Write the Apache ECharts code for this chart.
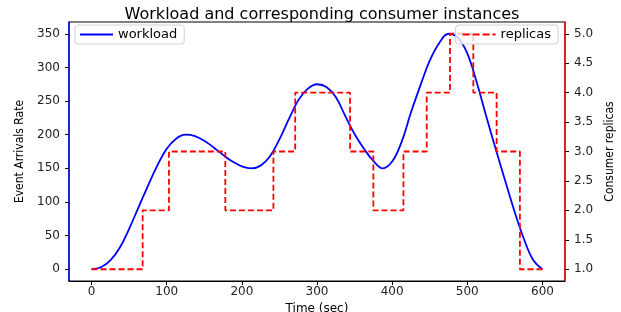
<!DOCTYPE html>
<html>
<head>
<meta charset="utf-8">
<title>Workload</title>
<script src="https://cdn.jsdelivr.net/npm/echarts/dist/echarts.min.js"></script>
<style>
  html,body{margin:0;padding:0;background:#fff;}
  #main{width:621px;height:312px;}
</style>
</head>
<body>
<div id="main"></div>
<script>
//workload curve (sec / events), read every 12.5 sec
var timeList = [0,12.5,25,37.5,50,62.5,75,87.5,100,112.5,125,137.5,150,162.5,175,187.5,200,212.5,225,237.5,250,262.5,275,287.5,300,
                312.5,325,337.5,350,362.5,375,387.5,400,412.5,425,437.5,450,462.5,475,487.5,500,512.5,525,537.5,550,562.5,575,587.5,600];
var workloadList = [0,3,13,32,60,92,124,154,179,194,200,198,191,181,170,160,153,150,154,168,193,223,251,268,275,
                    271,256,228,201,179,161,150,160,189,233,273,310,336,350,344,321,278,228,180,133,87,46,14,0];
//replicas step (time where the count changes)
var replicaTimes = [0,68,103,178,242,271,344,375,415,446,477,508,539,570,600];
var replicaList = [1,2,3,2,3,4,3,2,3,4,5,4,3,1,1];
//tick labels
var xTicks = [0,100,200,300,400,500,600];
var leftTicks = [0,50,100,150,200,250,300,350];
var rightTicks = [1.0,1.5,2.0,2.5,3.0,3.5,4.0,4.5,5.0];

var FONT = 'DejaVu Sans';
var NARROW = "'DejaVu Sans Condensed', 'Liberation Sans Narrow', 'Liberation Sans', sans-serif";

function toPairs(xs, ys){
	var arr = [];
	for(var i=0;i<xs.length;i++){
		arr.push([xs[i], ys[i]]);
	}
	return arr;
}

function draw_chart(){
	var myChart = echarts.init(document.getElementById('main'), null, {renderer:'canvas'});
	var option = {
		animation: false,
		backgroundColor: '#fff',
		title: {
			text: 'Workload and corresponding consumer instances',
			left: 317,
			top: 2,
			textAlign: 'center',
			textStyle: {fontFamily: FONT, fontSize: 16, fontWeight: 'normal', color: '#000'}
		},
		legend: [
			{
				data: ['workload'],
				left: 75,
				top: 25,
				orient: 'horizontal',
				icon: 'path://M0,0 L33,0 L33,2 L0,2 Z',
				itemWidth: 33,
				itemHeight: 2,
				padding: [3, 7, 3, 5],
				backgroundColor: 'rgba(255,255,255,0.8)',
				borderColor: '#d0d0d0',
				borderWidth: 1,
				borderRadius: 3,
				textStyle: {fontFamily: FONT, fontSize: 13, color: '#000'}
			},
			{
				data: ['replicas'],
				right: 63,
				top: 25,
				orient: 'horizontal',
				//dashed sample
				icon: 'path://M0,0 h7 v2 h-7 Z M10,0 h7 v2 h-7 Z M20,0 h7 v2 h-7 Z M30,0 h3 v2 h-3 Z',
				itemWidth: 33,
				itemHeight: 2,
				padding: [3, 7, 3, 7],
				backgroundColor: 'rgba(255,255,255,0.8)',
				borderColor: '#d0d0d0',
				borderWidth: 1,
				borderRadius: 3,
				textStyle: {fontFamily: FONT, fontSize: 13, color: '#000'}
			}
		],
		grid: {
			left: 69, right: 56, top: 22, bottom: 31,
			containLabel: false,
			outerBoundsMode: 'none',
			show: true,
			borderColor: '#000',
			borderWidth: 1,
			backgroundColor: 'transparent'
		},
		xAxis: {
			type: 'value',
			min: -30,
			max: 630,
			name: 'Time (sec)',
			nameLocation: 'middle',
			nameGap: 14,
			nameTextStyle: {fontFamily: FONT, fontSize: 12, color: '#000'},
			axisLine: {show: true, onZero: false, lineStyle: {color: '#000', width: 1}},
			axisTick: {show: true, length: 4, customValues: xTicks, lineStyle: {color: '#000'}},
			axisLabel: {customValues: xTicks, margin: 5, fontFamily: FONT, fontSize: 12, color: '#222'},
			splitLine: {show: false}
		},
		yAxis: [
			{
				type: 'value',
				position: 'left',
				min: -17.5,
				max: 367.5,
				name: 'Event Arrivals Rate',
				nameLocation: 'middle',
				nameRotate: 90,
				nameGap: 42,
				nameTextStyle: {fontFamily: NARROW, fontSize: 12, color: '#000'},
				axisLine: {show: true, onZero: false, lineStyle: {color: '#0000ff', width: 1.5}},
				axisTick: {show: true, length: 4, customValues: leftTicks, lineStyle: {color: '#000'}},
				axisLabel: {customValues: leftTicks, margin: 9, fontFamily: FONT, fontSize: 12, color: '#222'},
				splitLine: {show: false}
			},
			{
				type: 'value',
				position: 'right',
				min: 0.8,
				max: 5.2,
				name: 'Consumer replicas',
				nameLocation: 'middle',
				nameRotate: 90,
				nameGap: 38,
				nameTextStyle: {fontFamily: NARROW, fontSize: 12, color: '#000'},
				axisLine: {show: true, onZero: false, lineStyle: {color: '#ff0000', width: 1.5}},
				axisTick: {show: true, length: 4, customValues: rightTicks, lineStyle: {color: '#000'}},
				axisLabel: {
					customValues: rightTicks, margin: 9, fontFamily: FONT, fontSize: 12, color: '#222',
					formatter: function(v){ return v.toFixed(1); }
				},
				splitLine: {show: false}
			}
		],
		series: [
			{
				name: 'workload',
				type: 'line',
				yAxisIndex: 0,
				smooth: 0.4,
				symbol: 'none',
				lineStyle: {color: '#0000ff', width: 1.8},
				itemStyle: {color: '#0000ff'},
				data: toPairs(timeList, workloadList)
			},
			{
				name: 'replicas',
				type: 'line',
				yAxisIndex: 1,
				step: 'end',
				symbol: 'none',
				lineStyle: {color: '#ff0000', width: 1.8, type: [6, 3]},
				itemStyle: {color: '#ff0000'},
				data: toPairs(replicaTimes, replicaList)
			}
		]
	};
	myChart.setOption(option);
}

draw_chart();
</script>
</body>
</html>
